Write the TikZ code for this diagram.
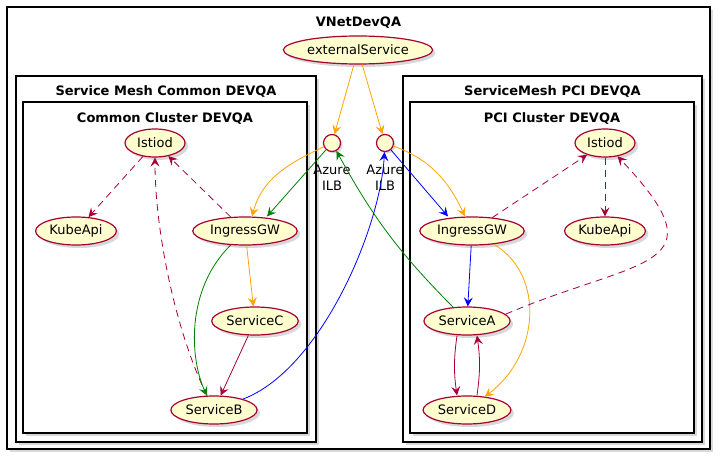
\documentclass[tikz,border=0pt]{standalone}
\usepackage{fontspec}
\setmainfont{DejaVu Sans}
\usetikzlibrary{arrows.meta, positioning, shapes.geometric, shadows}
\definecolor{ucline}{HTML}{A80036}
\definecolor{ucfill}{HTML}{FEFECE}
\definecolor{lborange}{HTML}{FFA500}
\definecolor{lbgreen}{HTML}{008000}
\definecolor{lbblue}{HTML}{0000FF}
\tikzset{
  pkgbox/.style={
    draw=black, fill=white, line width=1.2pt, inner sep=0pt,
    drop shadow={shadow xshift=3pt, shadow yshift=-3pt, opacity=0.3}
  },
  pkgtitle/.style={font=\bfseries\fontsize{13}{15}\selectfont, inner sep=0pt},
  usecase/.style={
    ellipse, draw=ucline, fill=ucfill, line width=1.2pt,
    minimum width=60pt, minimum height=28pt, inner xsep=2pt,
    font=\fontsize{13}{15}\selectfont,
    drop shadow={shadow xshift=3pt, shadow yshift=-3pt, opacity=0.3}
  },
  ilb/.style={
    circle, draw=ucline, fill=ucfill, line width=1.2pt,
    minimum size=17pt, inner sep=0pt,
    drop shadow={shadow xshift=2pt, shadow yshift=-2pt, opacity=0.3}
  },
  ilblabel/.style={align=center, inner sep=0pt, label distance=13pt,
    font=\fontsize{13}{16}\selectfont},
  arr/.style={-{Stealth[length=9pt, width=9pt, inset=3.5pt]}, line width=0.8pt},
  dep/.style={arr, ucline, dash pattern=on 7pt off 5pt}
}

\begin{document}
\begin{tikzpicture}[x=1pt, y=1pt, on grid]
  \useasboundingbox (0,0) rectangle (721,-460);

  \node[pkgbox, minimum width=703pt, minimum height=442pt] (vnet) at (358.5,-228) {};
  \node[pkgtitle, below=10pt of vnet.north] (vnetT) {VNetDevQA};
  \node[pkgbox, minimum width=300pt, minimum height=366pt] (meshL) at (166,-259) {};
  \node[pkgtitle, below=10pt of meshL.north] (meshLT) {Service Mesh Common DEVQA};
  \node[pkgbox, minimum width=284pt, minimum height=331pt] (clusterL) at (165,-267.5) {};
  \node[pkgtitle, below=11pt of clusterL.north] (clusterLT) {Common Cluster DEVQA};
  \node[pkgbox, minimum width=299pt, minimum height=366pt] (meshR) at (552.5,-259) {};
  \node[pkgtitle, below=10pt of meshR.north] (meshRT) {ServiceMesh PCI DEVQA};
  \node[pkgbox, minimum width=284pt, minimum height=331pt] (clusterR) at (552,-267.5) {};
  \node[pkgtitle, below=11pt of clusterR.north] (clusterRT) {PCI Cluster DEVQA};

  \node[usecase] (ext) at (358,-50) {externalService};
  \node[ilb, below left=93pt and 26pt of ext, label={[ilblabel]below:Azure\\ILB}] (ilbL) {};
  \node[ilb, right=53pt of ilbL, label={[ilblabel]below:Azure\\ILB}] (ilbR) {};

  \node[usecase, left=177pt of ilbL] (istL) {Istiod};
  \node[usecase, below left=88pt and 79pt of istL] (kubeL) {KubeApi};
  \node[usecase, right=169pt of kubeL] (ingL) {IngressGW};
  \node[usecase, below right=90pt and 10pt of ingL] (svcC) {ServiceC};
  \node[usecase, below left=89pt and 41pt of svcC] (svcB) {ServiceB};

  \node[usecase, right=220pt of ilbR] (istR) {Istiod};
  \node[usecase, below=88pt of istR] (kubeR) {KubeApi};
  \node[usecase, left=133pt of kubeR] (ingR) {IngressGW};
  \node[usecase, below left=90pt and 5pt of ingR] (svcA) {ServiceA};
  \node[usecase, below=89pt of svcA] (svcD) {ServiceD};

  \draw[arr, lborange] (ext) -- (ilbL);
  \draw[arr, lborange] (ext) -- (ilbR);
  \draw[arr, lborange] (ilbL) to[out=205, in=75] ([xshift=7pt]ingL.north);
  \draw[arr, lbgreen] (ilbL) -- ([xshift=22pt]ingL.north);
  \draw[arr, lbgreen] (svcA) to[bend left=8] (ilbL);
  \draw[arr, lbblue] (svcB) .. controls (320,-370) and (380,-230) .. (ilbR);
  \draw[arr, lbblue] (ilbR) -- ([xshift=-24pt]ingR.north);
  \draw[arr, lborange] (ilbR) to[out=-20, in=115] ([xshift=-7pt]ingR.north);

  \draw[arr, lbblue] (ingR) -- (svcA);
  \draw[arr, lborange] (ingR) .. controls (545,-275) and (540,-355) .. (svcD);
  \draw[arr, ucline] ([xshift=-10pt]svcA.south) to[bend right=8] ([xshift=-10pt]svcD.north);
  \draw[arr, ucline] ([xshift=10pt]svcD.north) to[bend right=8] ([xshift=10pt]svcA.south);
  \draw[dep] (ingR) -- (istR);
  \draw[dep] (istR) -- (kubeR);
  \draw[dep] (svcA.10) .. controls (640,-257) and (725,-270) .. (istR);

  \draw[dep] (istL) -- (kubeL);
  \draw[dep] (ingL) -- (istL);
  \draw[dep] (svcB) .. controls (175,-330) and (155,-230) .. (istL);
  \draw[arr, lborange] (ingL) -- (svcC);
  \draw[arr, lbgreen] (ingL) .. controls (185,-290) and (190,-360) .. (svcB);
  \draw[arr, ucline] (svcC) -- (svcB);
\end{tikzpicture}
\end{document}
